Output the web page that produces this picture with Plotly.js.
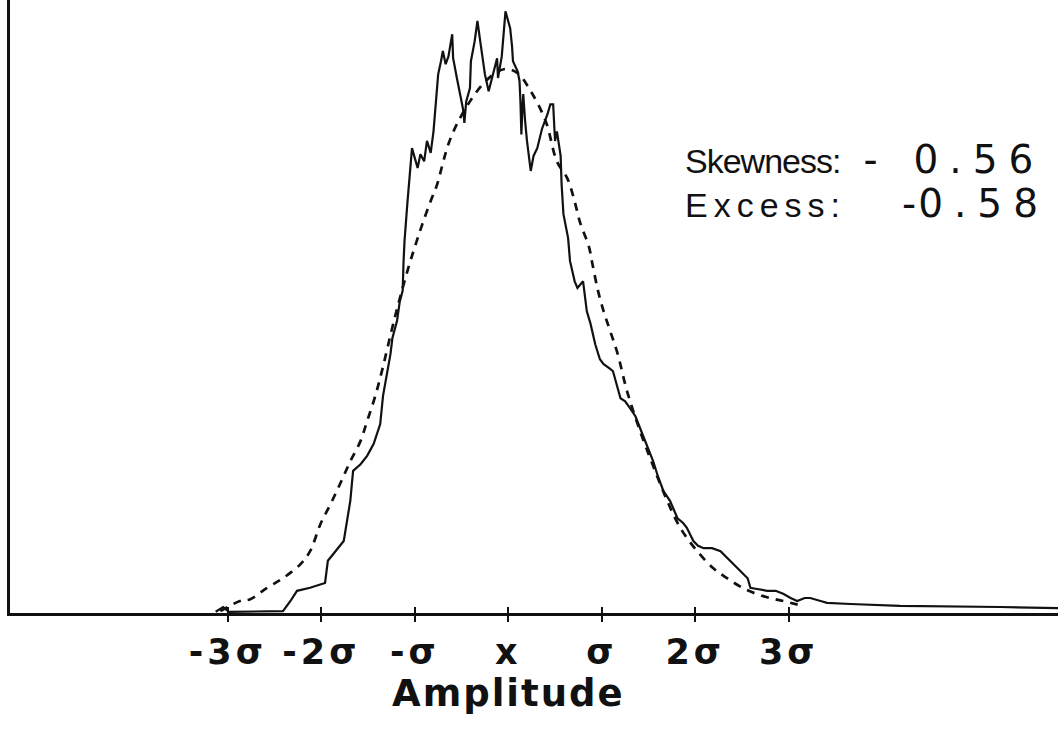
<!DOCTYPE html>
<html>
<head>
<meta charset="utf-8">
<script src="https://cdn.plot.ly/plotly-3.0.1.min.js"></script>
<style>
  html, body { margin: 0; padding: 0; background: #fff; }
  #chart { width: 1058px; height: 731px; }
  .xtick text { letter-spacing: 4px; }
</style>
</head>
<body>
<div id="chart"></div>
<script>
// Amplitude in units of sigma (mean = 0); frequency in arbitrary units
const measuredX = [-3.13,-3.05,-2.99,-2.41,-2.33,-2.26,-2.12,-1.96,-1.93,-1.76,-1.69,-1.66,-1.58,-1.51,-1.44,-1.37,-1.34,-1.29,-1.26,-1.24,-1.19,-1.16,-1.13,-1.12,-1.11,-1.08,-1.05,-1.03,-0.99,-0.97,-0.94,-0.90,-0.87,-0.83,-0.80,-0.78,-0.76,-0.75,-0.72,-0.70,-0.67,-0.64,-0.60,-0.59,-0.55,-0.51,-0.48,-0.47,-0.45,-0.41,-0.40,-0.36,-0.33,-0.30,-0.27,-0.25,-0.21,-0.17,-0.12,-0.11,-0.07,-0.03,0.00,0.02,0.04,0.05,0.10,0.12,0.13,0.14,0.15,0.16,0.18,0.20,0.24,0.27,0.31,0.36,0.42,0.45,0.48,0.50,0.52,0.56,0.57,0.59,0.64,0.66,0.71,0.74,0.80,0.84,0.88,0.93,0.98,1.02,1.09,1.12,1.20,1.25,1.30,1.36,1.41,1.49,1.55,1.60,1.66,1.73,1.81,1.87,1.91,1.98,2.03,2.09,2.18,2.27,2.35,2.45,2.56,2.59,2.66,2.77,2.86,2.94,3.02,3.09,3.17,3.23,3.34,3.41,3.66,4.19,5.26,5.88];
const measuredY = [0.2,1.0,0.2,0.3,2.0,3.7,4.2,5.0,8.7,12.0,18.7,23.7,24.8,26.2,28.2,31.5,36.2,40.3,43.2,45.8,48.7,52.0,53.7,58.7,62.0,68.2,73.2,77.5,75.3,74.2,76.5,75.3,78.7,76.7,80.3,84.2,87.0,89.8,92.0,93.7,91.5,92.8,96.5,92.5,89.2,86.2,83.7,81.7,85.3,87.5,92.0,95.3,98.7,95.3,92.0,89.8,87.0,89.5,92.5,89.2,92.8,100.3,98.7,97.5,94.5,92.0,90.3,88.7,85.3,79.8,83.7,86.5,82.0,78.7,73.7,76.2,77.5,80.7,83.2,84.8,84.8,78.7,80.3,76.2,71.5,66.5,62.5,58.7,55.3,54.2,55.3,50.3,48.2,44.8,42.3,41.5,40.7,40.3,35.8,35.3,34.2,32.8,30.8,27.5,25.3,22.8,20.3,18.7,15.8,15.0,14.2,12.0,11.2,10.8,10.8,10.3,9.0,7.5,5.8,4.2,4.0,3.7,3.7,3.2,2.5,2.0,2.5,2.5,2.0,1.7,1.5,1.2,1.0,0.8];

const normalX = [-3.08,-2.87,-2.76,-2.58,-2.41,-2.22,-2.12,-2.01,-1.90,-1.80,-1.69,-1.58,-1.51,-1.44,-1.37,-1.21,-1.07,-0.99,-0.92,-0.83,-0.76,-0.70,-0.64,-0.55,-0.41,-0.27,-0.14,-0.03,0.10,0.24,0.40,0.52,0.63,0.70,0.77,0.86,0.90,0.96,1.02,1.09,1.17,1.27,1.41,1.55,1.70,1.84,2.00,2.19,2.34,2.53,2.75,2.94,3.12];
const normalY = [0.3,2.0,2.3,4.2,5.8,8.2,10.3,14.8,18.2,21.5,25.3,28.7,32.0,35.3,39.2,49.5,57.5,61.5,64.8,68.7,71.5,75.0,78.2,81.5,85.3,88.2,90.0,90.7,90.0,87.0,82.0,75.3,72.5,69.2,65.0,61.2,58.2,53.7,50.3,47.0,43.2,37.0,30.3,24.5,18.7,14.2,10.7,7.5,5.8,4.0,2.7,2.0,1.3];

const tickValues = [-3,-2,-1,0,1,2,3];
const tickLabels = ['-3σ','-2σ','-σ','x','σ','2σ','3σ'];

const axisTitle = 'Amplitude';
const skewLabel = 'Skewness:';
const skewValue = '-0.56';
const excessLabel = 'Excess:';
const excessValue = '-0.58';

const FONT = 'Liberation Sans, Arial, sans-serif';
const WIDE = 'DejaVu Sans, Verdana, sans-serif';
const INK = '#111';

function sp(txt, css) { return '<span style="' + css + '">' + txt + '</span>'; }

const numCss = 'font-family:DejaVu Sans;font-size:39px;';
const skewText = sp(skewLabel.slice(0, -1), 'letter-spacing:-1px') +
  sp(':', 'letter-spacing:22px') +
  sp(skewValue.slice(0, 1), numCss + 'letter-spacing:36px') +
  sp(skewValue.slice(1, -1), numCss + 'letter-spacing:11px') +
  sp(skewValue.slice(-1), numCss + 'letter-spacing:0px');
const excessText = sp(excessLabel.slice(0, -1), 'letter-spacing:6px') +
  sp(':', 'letter-spacing:62px') +
  sp(excessValue.slice(0, 1), numCss + 'letter-spacing:2px') +
  sp(excessValue.slice(1, -1), numCss + 'letter-spacing:11px') +
  sp(excessValue.slice(-1), numCss + 'letter-spacing:0px');

const traces = [
  { x: measuredX, y: measuredY, type: 'scatter', mode: 'lines',
    line: { color: INK, width: 2.2 }, hoverinfo: 'skip', showlegend: false },
  { x: normalX, y: normalY, type: 'scatter', mode: 'lines',
    line: { color: INK, width: 2.7, dash: '8px,7px', shape: 'spline' }, hoverinfo: 'skip', showlegend: false },
  { x: [0], y: [0], xaxis: 'x2', yaxis: 'y', type: 'scatter', mode: 'markers',
    marker: { opacity: 0 }, hoverinfo: 'skip', showlegend: false }
];

const layout = {
  width: 1058, height: 731,
  margin: { l: 10, r: 0, t: 0, b: 118 },
  paper_bgcolor: '#fff', plot_bgcolor: '#fff',
  showlegend: false,
  xaxis: {
    range: [-5.33, 5.88],
    showline: true, linewidth: 3, linecolor: INK,
    showgrid: false, zeroline: false,
    ticks: 'outside', ticklen: 6, tickwidth: 2, tickcolor: INK,
    tickvals: tickValues, ticktext: tickLabels,
    tickfont: { family: WIDE, size: 35, color: INK, weight: 'bold' }
  },
  xaxis2: {
    overlaying: 'x', anchor: 'y', side: 'bottom',
    range: [-5.33, 5.88],
    showline: false, showgrid: false, zeroline: false,
    ticks: 'inside', ticklen: 6, tickwidth: 2, tickcolor: INK,
    tickvals: tickValues, showticklabels: false
  },
  yaxis: {
    range: [0, 102.2],
    showline: true, linewidth: 3, linecolor: INK,
    showgrid: false, zeroline: false,
    ticks: '', showticklabels: false
  },
  annotations: [
    { xref: 'x', yref: 'y', x: 1.87, y: 75.6, xanchor: 'left', yanchor: 'middle', showarrow: false,
      text: skewText, font: { family: FONT, size: 34, color: INK } },
    { xref: 'x', yref: 'y', x: 1.87, y: 68.3, xanchor: 'left', yanchor: 'middle', showarrow: false,
      text: excessText, font: { family: FONT, size: 34, color: INK } },
    { xref: 'x', yref: 'paper', x: 0, y: -0.132, xanchor: 'center', yanchor: 'middle', showarrow: false,
      text: sp(axisTitle, 'letter-spacing:2px'), font: { family: WIDE, size: 37, color: INK, weight: 'bold' } }
  ]
};

Plotly.newPlot('chart', traces, layout, { staticPlot: true, displayModeBar: false });
</script>
</body>
</html>
